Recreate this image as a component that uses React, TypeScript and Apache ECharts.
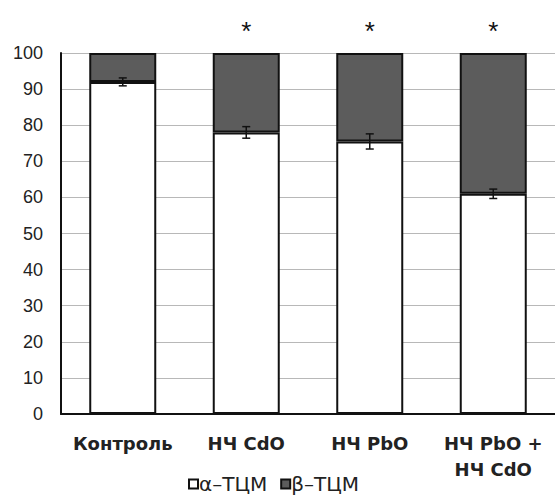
import React, { useEffect, useRef } from "react";
import * as echarts from "echarts";

const categories = ["Контроль", "НЧ CdO", "НЧ PbO", "НЧ PbO +\nНЧ CdO"];
const alphaValues = [92, 78, 75.5, 61];
const betaValues = [8, 22, 24.5, 39];
const alphaErrors = [1.1, 1.6, 2.1, 1.3];
const significance = ["", "*", "*", "*"];
const yTicks = [0, 10, 20, 30, 40, 50, 60, 70, 80, 90, 100];

export default function App() {
  const ref = useRef<HTMLDivElement>(null);
  useEffect(() => {
    if (!ref.current) return;
    const chart = echarts.init(ref.current, null, { renderer: "svg" });
    const font = "'Liberation Sans', Arial, sans-serif";
    chart.setOption({
      animation: false,
      backgroundColor: "#ffffff",
      grid: { left: 61, top: 53, height: 361, width: 504 },
      legend: {
        data: ["α–ТЦМ", "β–ТЦМ"],
        left: 183,
        top: 469,
        icon: "rect",
        itemWidth: 9,
        itemHeight: 9,
        itemGap: 13,
        textStyle: {
          fontSize: 20,
          lineHeight: 20,
          color: "#222",
          fontFamily: "'DejaVu Sans', sans-serif",
          padding: [0, 0, 0, -4],
        },
      },
      xAxis: {
        type: "category",
        data: categories,
        axisLine: { show: true, lineStyle: { color: "#111", width: 2 } },
        axisTick: { show: false },
        axisLabel: {
          interval: 0,
          fontSize: 18,
          fontWeight: "bold",
          color: "#222",
          fontFamily: "'DejaVu Sans', sans-serif",
          margin: 16,
          lineHeight: 26,
        },
      },
      yAxis: {
        type: "value",
        min: 0,
        max: 100,
        interval: 10,
        axisLine: { show: true, lineStyle: { color: "#111", width: 2 } },
        axisTick: { show: false },
        axisLabel: {
          fontSize: 18,
          color: "#222",
          fontFamily: font,
          margin: 18,
          formatter: (v: number) => (yTicks.includes(v) ? String(v) : ""),
        },
        splitLine: { show: true, lineStyle: { color: "#b8b8b8", width: 1 } },
      },
      series: [
        {
          name: "α–ТЦМ",
          type: "bar",
          stack: "total",
          barWidth: 67,
          data: alphaValues,
          itemStyle: { color: "#ffffff", borderColor: "#111", borderWidth: 2 },
        },
        {
          name: "β–ТЦМ",
          type: "bar",
          stack: "total",
          barWidth: 67,
          data: betaValues,
          itemStyle: { color: "#5c5c5c", borderColor: "#111", borderWidth: 2 },
          label: {
            show: true,
            position: "top",
            distance: 9,
            fontSize: 26,
            color: "#111",
            fontFamily: font,
            formatter: (p: any) => significance[p.dataIndex],
          },
        },
        {
          name: "err",
          type: "custom",
          z: 10,
          data: alphaValues.map((v, i) => [i, v, alphaErrors[i]]),
          renderItem: (params: any, api: any) => {
            const x = api.value(0);
            const v = api.value(1);
            const e = api.value(2);
            const top = api.coord([x, v + e]);
            const bot = api.coord([x, v - e]);
            const cap = 4;
            const style = { stroke: "#111", lineWidth: 1.5 };
            return {
              type: "group",
              children: [
                { type: "line", shape: { x1: top[0], y1: top[1], x2: bot[0], y2: bot[1] }, style },
                { type: "line", shape: { x1: top[0] - cap, y1: top[1], x2: top[0] + cap, y2: top[1] }, style },
                { type: "line", shape: { x1: bot[0] - cap, y1: bot[1], x2: bot[0] + cap, y2: bot[1] }, style },
              ],
            };
          },
        },
      ],
    });
    return () => chart.dispose();
  }, []);
  return <div ref={ref} style={{ width: 555, height: 496, position: "absolute", left: 0, top: 0 }} />;
}
